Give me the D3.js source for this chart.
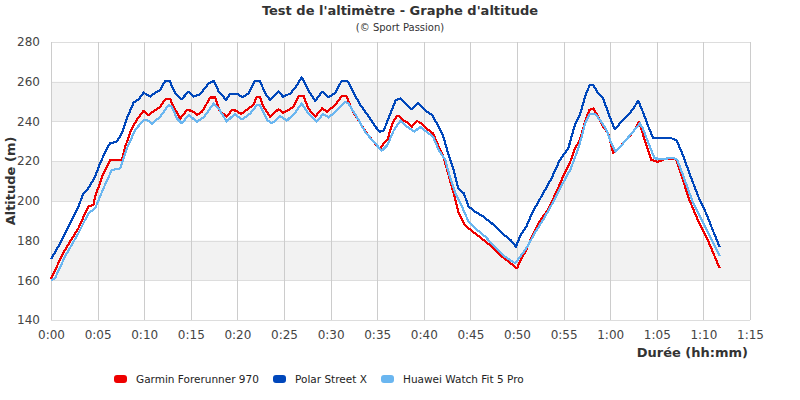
<!DOCTYPE html>
<html>
<head>
<meta charset="utf-8">
<script src="https://cdn.jsdelivr.net/npm/d3@7"></script>
<style>
  body { margin: 0; background: #fff; }
  svg { font-family: "DejaVu Sans", sans-serif; display: block; }
</style>
</head>
<body>
<div id="chartContainer"></div>
<script>
// Series names / colours
const seriesNames = ['Garmin Forerunner 970', 'Polar Street X', 'Huawei Watch Fit 5 Pro'];
const seriesColors = ['#ee0000', '#0047bb', '#6ab6f0'];

// Time (minutes) and altitude (m)
const garminMin = [0, 0.79, 1.5, 2.94, 3.66, 4.0, 4.55, 4.73, 5.63, 6.34, 7.6, 7.96, 8.67, 9.2, 9.93, 10.47, 11.18, 11.72, 12.26, 12.8, 13.15, 13.87, 14.59, 15.13, 15.66, 16.2, 17.1, 17.6, 18.1, 18.85, 19.4, 19.9, 20.4, 21.2, 21.7, 22.1, 22.4, 22.8, 23.5, 24.4, 24.9, 25.5, 26, 26.6, 27.1, 27.6, 28.35, 29.1, 29.6, 30.5, 31.2, 31.7, 32.3, 33.2, 33.9, 34.6, 35.3, 35.7, 36.1, 36.6, 37.1, 37.3, 37.8, 38.4, 38.7, 39.3, 39.8, 40.5, 41, 41.6, 42.1, 42.6, 43.2, 43.7, 44.4, 45.1, 46.2, 47.3, 48.4, 49.3, 50, 50.3, 50.9, 51.6, 52.3, 53.4, 54.4, 55.1, 55.8, 56.2, 56.75, 57.3, 57.75, 58.2, 58.7, 59.25, 59.8, 60.3, 60.9, 61.75, 62.5, 63.1, 63.7, 64.4, 65.1, 65.8, 66.75, 67.1, 67.8, 68.5, 69.4, 70.3, 71, 71.75];
const garminAlt = [160.7, 168.6, 175.3, 186.2, 193.7, 197.1, 197.9, 202.1, 213.9, 220.6, 220.6, 227.3, 236.5, 240.7, 245.4, 243.2, 245.7, 247.4, 251.1, 251.1, 247.4, 241.5, 245.7, 245.4, 243.2, 244.9, 252.1, 252.1, 245.3, 242.4, 245.7, 245.4, 243.7, 246.6, 248.3, 252.5, 252.5, 247.4, 242.4, 246.1, 244.4, 245.7, 247.4, 252.8, 252.8, 246.6, 242.4, 246.6, 244.9, 248.3, 252.8, 252.8, 245.7, 239, 234, 229.8, 225.9, 229, 230.6, 238.7, 242.7, 242.7, 240.4, 239, 237.3, 240.2, 238.7, 235.7, 234, 227.3, 222.2, 213.9, 203.8, 194.6, 187.9, 185, 181.1, 176.9, 171.9, 168.6, 166, 169.4, 174.4, 182, 188.7, 196.2, 206.3, 213.9, 220.6, 226.4, 230.6, 239.9, 245.7, 246.6, 242.4, 237.3, 234, 224.3, 226.4, 231, 234.8, 239.9, 230.6, 220.6, 219.7, 220.9, 221.4, 220.6, 210.5, 200.4, 190.4, 182, 174.4, 166];

const polarMin = [0, 0.79, 1.86, 2.94, 3.48, 4.0, 4.73, 5.27, 5.99, 6.34, 7.06, 7.6, 8.14, 8.85, 9.39, 9.93, 10.65, 11.18, 11.72, 12.26, 12.72, 13.33, 13.98, 14.77, 15.3, 16.02, 16.92, 17.46, 18.0, 18.8, 19.2, 20.1, 20.5, 21.2, 21.9, 22.4, 23, 23.5, 24.4, 24.9, 25.7, 26.4, 26.9, 27.6, 28.35, 29.1, 29.8, 30.5, 31.2, 31.8, 32.5, 33.2, 34.1, 34.8, 35.3, 35.7, 36.2, 37, 37.5, 38, 38.7, 39.4, 40.1, 40.9, 41.4, 42.1, 42.6, 43.2, 43.7, 44.3, 44.8, 45.5, 46.4, 47.3, 48.4, 49.3, 49.9, 50.3, 51, 51.6, 52.6, 53.7, 54.6, 55.5, 56.2, 56.75, 57.3, 57.8, 58.2, 58.7, 59.25, 59.8, 60.5, 61.2, 62.1, 62.6, 63, 63.5, 64.1, 64.6, 66.4, 67.1, 67.8, 68.5, 69.6, 70.3, 71, 71.75];
const polarAlt = [170.7, 177, 187, 197.1, 203.8, 206.3, 212.2, 218.9, 226.4, 229, 229.8, 234, 241.5, 249.4, 251.1, 254.5, 252.5, 254.5, 255.8, 260.5, 260.5, 254.1, 251.1, 255, 252.5, 253.8, 259.2, 260.5, 255, 250.8, 253.8, 253.8, 252.1, 254.1, 260.5, 260.5, 254.1, 250.8, 255, 252.5, 254.1, 258.3, 262.2, 255.8, 250.4, 255, 252.1, 254.5, 260.5, 260.5, 254.1, 248.3, 242.4, 237.3, 234.8, 235.3, 241.5, 250.8, 251.6, 249.1, 246.1, 249.1, 245.7, 243.2, 239, 232.3, 223.9, 215.5, 206.3, 203.8, 197.1, 194.6, 192, 188.7, 183.7, 180.3, 176.9, 182, 187, 193.7, 202.1, 211.3, 220.6, 226.4, 238, 243.2, 252.5, 258.3, 258.3, 254.1, 251.6, 244.1, 236, 239.9, 244.1, 247.4, 250.4, 244.9, 237.3, 231.8, 231.8, 230.6, 223.1, 213.9, 200.4, 193.7, 185.3, 176.6];

const huaweiMin = [0, 0.43, 1.5, 2.94, 4.01, 4.73, 5.63, 6.52, 7.42, 8.14, 9.03, 9.93, 10.47, 10.82, 11.72, 12.62, 12.97, 13.51, 14.05, 14.77, 15.66, 16.38, 17.46, 18.0, 18.85, 19.7, 20.5, 21.4, 22.1, 22.4, 23.2, 23.7, 24.6, 25.3, 26.2, 26.9, 27.6, 28.5, 29.2, 29.8, 30.7, 31.6, 31.9, 32.8, 33.7, 34.6, 35.5, 36.1, 36.8, 37.5, 38.2, 39, 39.6, 40.3, 41, 41.6, 42.3, 42.8, 43.4, 44.1, 44.8, 45.5, 46.6, 47.6, 48.7, 49.8, 50.2, 51, 51.9, 53, 54, 55.1, 55.7, 56.2, 56.75, 57.3, 57.8, 58.4, 58.9, 59.6, 60.1, 60.6, 61.4, 62.3, 63.2, 63.5, 64.25, 64.75, 65.7, 66.75, 67.2, 68, 68.9, 69.8, 70.7, 71.75];
const huaweiAlt = [160, 161, 171.9, 183.7, 193.7, 196.2, 206.3, 215.5, 216.4, 226.4, 235.7, 240.7, 240.4, 238.7, 242.4, 248.3, 247.4, 241.5, 239, 243.2, 239.9, 242, 249.1, 246.5, 239.9, 243.7, 241, 244.1, 248.3, 248.3, 240.7, 239, 242.7, 240.4, 244.4, 249.1, 244.1, 239.9, 243.7, 242, 245.7, 249.9, 249.1, 242.4, 234.8, 229.8, 225.3, 228.1, 235.7, 240.4, 237.3, 234.8, 237.3, 234.8, 232.3, 225.6, 220.6, 212.2, 203.8, 197.1, 189.5, 186.2, 182, 176.9, 171.9, 168.6, 171, 176.1, 183.7, 192, 200.4, 210.5, 215.5, 221.5, 229, 239, 243.7, 243.7, 240.7, 235.7, 229, 224.8, 229, 234, 239, 236.5, 227.3, 221.4, 221.1, 221.7, 220.6, 210.5, 198.8, 190.4, 182, 172.2];

// Axis ticks
const xTickMin = [0, 5, 10, 15, 20, 25, 30, 35, 40, 45, 50, 55, 60, 65, 70, 75];
const xTickLabels = ['0:00', '0:05', '0:10', '0:15', '0:20', '0:25', '0:30', '0:35', '0:40', '0:45', '0:50', '0:55', '1:00', '1:05', '1:10', '1:15'];
const yTicks = [140, 160, 180, 200, 220, 240, 260, 280];

const series = [
  { name: seriesNames[0], color: seriesColors[0], t: garminMin, v: garminAlt },
  { name: seriesNames[1], color: seriesColors[1], t: polarMin, v: polarAlt },
  { name: seriesNames[2], color: seriesColors[2], t: huaweiMin, v: huaweiAlt }
];

const width = 800;
const height = 400;
const margin = { top: 42, right: 50, bottom: 80, left: 51 };

const svg = d3.select('#chartContainer')
  .append('svg')
  .attr('width', width)
  .attr('height', height);

const x = d3.scaleLinear()
  .domain([0, 75])
  .range([margin.left, width - margin.right]);

const y = d3.scaleLinear()
  .domain([140, 280])
  .range([height - margin.bottom, margin.top]);

// Alternating bands
const bands = [];
for (let i = 0; i < yTicks.length - 1; i++) {
  if (i % 2 === 1) bands.push([yTicks[i], yTicks[i + 1]]);
}
svg.append('g')
  .selectAll('rect')
  .data(bands)
  .enter().append('rect')
  .attr('x', x(0))
  .attr('width', x(75) - x(0))
  .attr('y', d => y(d[1]))
  .attr('height', d => y(d[0]) - y(d[1]))
  .attr('fill', '#f2f2f2');

// Horizontal grid
svg.append('g')
  .selectAll('line')
  .data(yTicks)
  .enter().append('line')
  .attr('x1', x(0)).attr('x2', x(75))
  .attr('y1', d => Math.round(y(d)) + 0.5)
  .attr('y2', d => Math.round(y(d)) + 0.5)
  .attr('stroke', '#dddddd');

// Vertical grid
svg.append('g')
  .selectAll('line')
  .data(xTickMin)
  .enter().append('line')
  .attr('x1', d => Math.round(x(d)) + 0.5)
  .attr('x2', d => Math.round(x(d)) + 0.5)
  .attr('y1', y(280)).attr('y2', y(140))
  .attr('stroke', '#cccccc');

// Y axis labels
const yAxis = svg.append('g')
  .attr('transform', `translate(${x(0)},0)`)
  .call(d3.axisLeft(y).tickValues(yTicks).tickSize(0).tickPadding(11));
yAxis.select('.domain').remove();
yAxis.selectAll('text')
  .attr('font-family', '"DejaVu Sans", sans-serif')
  .attr('font-size', 12)
  .attr('fill', '#444');

// X axis labels
const xAxis = svg.append('g')
  .attr('transform', `translate(0,${y(140)})`)
  .call(d3.axisBottom(x).tickValues(xTickMin).tickFormat((d, i) => xTickLabels[i]).tickSize(0).tickPadding(10));
xAxis.select('.domain').remove();
xAxis.selectAll('text')
  .attr('font-family', '"DejaVu Sans", sans-serif')
  .attr('font-size', 12)
  .attr('fill', '#444');

// Lines
const line = d3.line()
  .x(d => x(d[0]))
  .y(d => y(d[1]));

svg.append('g')
  .selectAll('path')
  .data(series)
  .enter().append('path')
  .attr('d', s => line(s.t.map((t, i) => [t, s.v[i]])))
  .attr('fill', 'none')
  .attr('stroke', s => s.color)
  .attr('stroke-width', 2.2)
  .attr('stroke-linejoin', 'round')
  .attr('shape-rendering', 'crispEdges');

// Titles
svg.append('text')
  .attr('x', width / 2).attr('y', 15)
  .attr('text-anchor', 'middle')
  .attr('font-size', 13).attr('font-weight', 'bold')
  .attr('fill', '#333')
  .text("Test de l'altimètre - Graphe d'altitude");

svg.append('text')
  .attr('x', width / 2).attr('y', 31)
  .attr('text-anchor', 'middle')
  .attr('font-size', 10)
  .attr('fill', '#333')
  .text('(© Sport Passion)');

svg.append('text')
  .attr('transform', `translate(15,${(y(140) + y(280)) / 2}) rotate(-90)`)
  .attr('text-anchor', 'middle')
  .attr('font-size', 13).attr('font-weight', 'bold')
  .attr('fill', '#333')
  .text('Altitude (m)');

svg.append('text')
  .attr('x', 748).attr('y', 357)
  .attr('text-anchor', 'end')
  .attr('font-size', 13).attr('font-weight', 'bold')
  .attr('fill', '#333')
  .text('Durée (hh:mm)');

// Legend
const legendX = [114, 273, 381];
const legend = svg.append('g')
  .selectAll('g')
  .data(series)
  .enter().append('g')
  .attr('transform', (d, i) => `translate(${legendX[i]},375)`);
legend.append('rect')
  .attr('width', 13).attr('height', 8)
  .attr('rx', 3)
  .attr('fill', d => d.color);
legend.append('text')
  .attr('x', 22).attr('y', 8)
  .attr('font-size', 10.5)
  .attr('fill', '#222')
  .text(d => d.name);
</script>
</body>
</html>
